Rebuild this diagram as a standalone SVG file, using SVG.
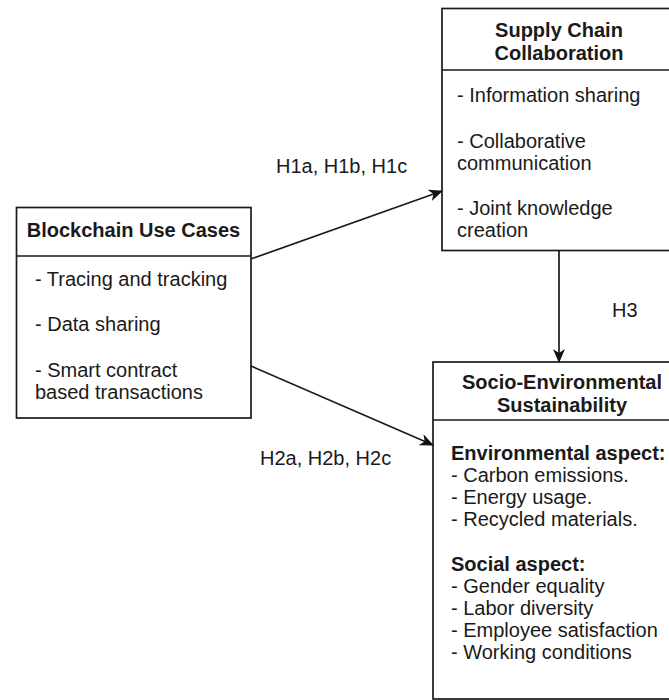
<svg xmlns="http://www.w3.org/2000/svg" width="669" height="700" viewBox="0 0 669 700">
<style>
  .box { fill: #ffffff; stroke: #1a1a1a; stroke-width: 1.7; }
  .sep { stroke: #1a1a1a; stroke-width: 1.7; fill: none; }
  .t { font-family: "Liberation Sans", Arial, sans-serif; font-size: 20px; fill: #1a1a1a; }
  .b { font-weight: bold; }
  .c { text-anchor: middle; }
  .edge { stroke: #1a1a1a; stroke-width: 1.7; fill: none; marker-end: url(#arr); }
</style>
<defs>
  <marker id="arr" viewBox="0 0 14 12" refX="13" refY="6" markerWidth="14" markerHeight="12" markerUnits="userSpaceOnUse" orient="auto">
    <path d="M0,0 L14,6 L0,12 L4,6 z" fill="#111111"/>
  </marker>
</defs>
<rect width="669" height="700" fill="#ffffff"/>

<g id="blockchain">
  <rect class="box" x="16.5" y="207.5" width="234.5" height="210.5"/>
  <line class="sep" x1="16.5" y1="256" x2="251" y2="256"/>
  <text class="t b c" x="133.5" y="237">Blockchain Use Cases</text>
  <text class="t" x="35" y="286">- Tracing and tracking</text>
  <text class="t" x="35" y="331">- Data sharing</text>
  <text class="t" x="35" y="377">- Smart contract</text>
  <text class="t" x="35" y="399">based transactions</text>
</g>

<g id="supply">
  <rect class="box" x="442" y="8.5" width="234" height="242"/>
  <line class="sep" x1="442" y1="70" x2="676" y2="70"/>
  <text class="t b c" x="559" y="37">Supply Chain</text>
  <text class="t b c" x="559" y="60">Collaboration</text>
  <text class="t" x="457" y="102">- Information sharing</text>
  <text class="t" x="457" y="148">- Collaborative</text>
  <text class="t" x="457" y="170">communication</text>
  <text class="t" x="457" y="215">- Joint knowledge</text>
  <text class="t" x="457" y="237">creation</text>
</g>

<g id="socio">
  <rect class="box" x="433" y="362" width="258" height="337"/>
  <line class="sep" x1="433" y1="420" x2="691" y2="420"/>
  <text class="t b c" x="562" y="389">Socio-Environmental</text>
  <text class="t b c" x="562" y="412">Sustainability</text>
  <text class="t b" x="451" y="460">Environmental aspect:</text>
  <text class="t" x="451" y="482">- Carbon emissions.</text>
  <text class="t" x="451" y="504">- Energy usage.</text>
  <text class="t" x="451" y="526">- Recycled materials.</text>
  <text class="t b" x="451" y="571">Social aspect:</text>
  <text class="t" x="451" y="593">- Gender equality</text>
  <text class="t" x="451" y="615">- Labor diversity</text>
  <text class="t" x="451" y="637">- Employee satisfaction</text>
  <text class="t" x="451" y="659">- Working conditions</text>
</g>

<g id="connectors">
  <line class="edge" x1="251" y1="259" x2="442" y2="191"/>
  <line class="edge" x1="251" y1="366" x2="433" y2="445"/>
  <line class="edge" x1="559" y1="250.5" x2="559" y2="362"/>
  <text class="t" x="276" y="173">H1a, H1b, H1c</text>
  <text class="t" x="260" y="465">H2a, H2b, H2c</text>
  <text class="t" x="612" y="317">H3</text>
</g>
</svg>
